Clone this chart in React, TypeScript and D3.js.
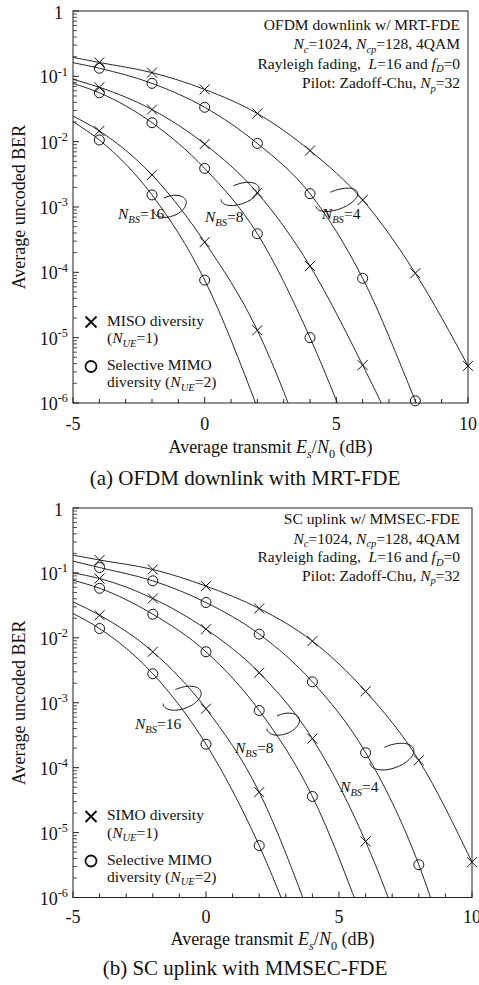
import React from 'react';
import * as d3 from 'd3';

const FONT = '"Liberation Serif", "Times New Roman", serif';

// Es/N0 (dB) of the simulated points; markers sit on the even ones
const SNR_DB = [-5, -4, -2, 0, 2, 4, 6, 8, 10];
const MARKER_DB = [-4, -2, 0, 2, 4, 6, 8, 10];

// (a) OFDM downlink w/ MRT-FDE  (MISO = cross, selective MIMO = circle)
const DL_MISO_4 = [0.195, 0.163, 0.114, 0.063, 0.027, 0.0073, 0.00128, 9.7e-5, 3.7e-6];
const DL_MIMO_4 = [0.162, 0.133, 0.078, 0.0336, 0.0094, 0.0016, 8.1e-5, 1.08e-6, 1e-8];
const DL_MISO_8 = [0.09, 0.068, 0.031, 0.0092, 0.00165, 1.25e-4, 3.8e-6, 8e-8, null];
const DL_MIMO_8 = [0.078, 0.056, 0.0195, 0.0039, 3.9e-4, 1.0e-5, 1e-7, null, null];
const DL_MISO_16 = [0.0247, 0.0146, 0.0031, 2.9e-4, 1.3e-5, 1.3e-7, null, null, null];
const DL_MIMO_16 = [0.0202, 0.0106, 0.00153, 7.6e-5, 8.5e-7, null, null, null, null];

// (b) SC uplink w/ MMSEC-FDE  (SIMO = cross, selective MIMO = circle)
const UL_SIMO_4 = [0.188, 0.158, 0.113, 0.0626, 0.0283, 0.0089, 0.0015, 1.3e-4, 3.5e-6];
const UL_MIMO_4 = [0.152, 0.121, 0.0756, 0.035, 0.0114, 0.0021, 1.7e-4, 3.2e-6, 8e-9];
const UL_SIMO_8 = [0.1, 0.082, 0.0404, 0.0136, 0.0029, 2.8e-4, 7.3e-6, 5e-8, null];
const UL_MIMO_8 = [0.077, 0.058, 0.0231, 0.0061, 7.6e-4, 3.6e-5, 3.4e-7, null, null];
const UL_SIMO_16 = [0.0358, 0.0223, 0.0061, 8.1e-4, 4.2e-5, 4e-7, null, null, null];
const UL_MIMO_16 = [0.0237, 0.0139, 0.0028, 2.3e-4, 6.3e-6, 5.5e-8, null, null, null];

const X_TICKS = [-5, 0, 5, 10];
const Y_EXP = [0, -1, -2, -3, -4, -5, -6];
const N_BS = [16, 8, 4];

type Seg = [string, string?];

// text with italic / subscript pieces ('i' italic, 'b' subscript, 'p' superscript)
function Rich({ x, y, size, segs, anchor = 'start', transform }: any) {
  let shift = 0;
  return (
    <text x={x} y={y} fontSize={size} textAnchor={anchor} transform={transform}
      style={{ whiteSpace: 'pre' }}>
      {segs.map(([t, f = '']: Seg, k: number) => {
        const small = f.includes('b') || f.includes('p');
        const target = f.includes('b') ? size * 0.25 : f.includes('p') ? -size * 0.42 : 0;
        const dy = target - shift;
        shift = target;
        return (
          <tspan key={k} dy={dy || undefined}
            fontStyle={f.includes('i') ? 'italic' : undefined}
            fontSize={small ? size * 0.68 : undefined}>{t}</tspan>
        );
      })}
    </text>
  );
}

function Cross({ cx, cy, s = 5, w = 1 }: any) {
  return <path d={`M${cx - s},${cy - s}L${cx + s},${cy + s}M${cx - s},${cy + s}L${cx + s},${cy - s}`}
    stroke="#111" strokeWidth={w} fill="none" />;
}

// open, tilted ellipse that wraps a pair of curves
function bracketPath(cx: number, cy: number, rx: number, ry: number, rot: number) {
  const r = (rot * Math.PI) / 180;
  const pts = d3.range(188, -101, -4).map((a) => {
    const t = (a * Math.PI) / 180;
    const ex = rx * Math.cos(t), ey = ry * Math.sin(t);
    return [cx + ex * Math.cos(r) - ey * Math.sin(r), cy + ex * Math.sin(r) + ey * Math.cos(r)] as [number, number];
  });
  return d3.line().curve(d3.curveBasis)(pts);
}

function Panel({ id, box, series, info, infoY, legendName, caption, off, brackets, labels }: any) {
  const x = d3.scaleLinear().domain([-5, 10]).range([box.left, box.right]);
  const y = d3.scaleLog().domain([1e-6, 1]).range([box.bottom, box.top]);
  const line = d3.line<[number, number]>()
    .x((d) => x(d[0]))
    .y((d) => y(d[1]))
    .curve(d3.curveMonotoneX);

  const minorY = d3.range(-6, 0).flatMap((e) => d3.range(2, 10).map((k) => k * 10 ** e));
  const minorX = d3.range(-5, 11);
  const midY = (box.top + box.bottom) / 2;

  return (
    <g>
      <defs>
        <clipPath id={id}>
          <rect x={box.left} y={box.top} width={box.right - box.left} height={box.bottom - box.top} />
        </clipPath>
      </defs>

      <rect x={box.left} y={box.top} width={box.right - box.left} height={box.bottom - box.top}
        fill="none" stroke="#222" strokeWidth={1} />

      {/* ticks */}
      {minorX.map((v) => (
        <line key={'mx' + v} x1={x(v)} x2={x(v)} y1={box.bottom} y2={box.bottom - (v % 5 === 0 ? 6 : 4)}
          stroke="#222" strokeWidth={1} />
      ))}
      {minorY.map((v, i) => (
        <line key={'my' + i} x1={box.left} x2={box.left + 4} y1={y(v)} y2={y(v)} stroke="#222" strokeWidth={0.8} />
      ))}
      {Y_EXP.map((e) => (
        <line key={'My' + e} x1={box.left} x2={box.left + 6} y1={y(10 ** e)} y2={y(10 ** e)} stroke="#222" strokeWidth={1} />
      ))}

      {/* tick labels */}
      {X_TICKS.map((v) => (
        <text key={'xl' + v} x={x(v)} y={box.bottom + off.tick} fontSize={18} textAnchor="middle">{v}</text>
      ))}
      {Y_EXP.map((e) =>
        e === 0 ? (
          <text key={'yl' + e} x={box.left - 10} y={y(1) + 7.5} fontSize={18} textAnchor="end">1</text>
        ) : (
          <Rich key={'yl' + e} x={box.left - 5} y={y(10 ** e) + 7} size={18} anchor="end"
            segs={[['10'], [String(e), 'p']]} />
        )
      )}

      <Rich x={(box.left + box.right) / 2} y={box.bottom + off.title} size={18} anchor="middle"
        segs={[['Average transmit '], ['E', 'i'], ['s', 'ib'], ['/'], ['N', 'i'], ['0', 'b'], [' (dB)']]} />
      <text x={25} y={midY} fontSize={18} textAnchor="middle" transform={`rotate(-90,25,${midY})`}>
        Average uncoded BER
      </text>
      <text x={245} y={box.bottom + off.caption} fontSize={21} textAnchor="middle">{caption}</text>

      {/* curves */}
      <g clipPath={`url(#${id})`}>
        {series.map((s: any, i: number) => {
          const pts = SNR_DB.map((d, k) => [d, s.values[k]]).filter((p) => p[1] != null) as [number, number][];
          return <path key={'c' + i} d={line(pts) || ''} fill="none" stroke="#111" strokeWidth={0.9} />;
        })}
      </g>
      {series.map((s: any, i: number) =>
        MARKER_DB.map((d) => {
          const v = s.values[SNR_DB.indexOf(d)];
          if (v == null || v < 1e-6) return null;
          return s.marker === 'x'
            ? <Cross key={`m${i}_${d}`} cx={x(d)} cy={y(v)} />
            : <circle key={`m${i}_${d}`} cx={x(d)} cy={y(v)} r={5} fill="none" stroke="#111" strokeWidth={1} />;
        })
      )}

      {/* N_BS groups */}
      {brackets.map((b: any, i: number) => (
        <path key={'b' + i} d={bracketPath(x(b[0]), y(10 ** b[1]), b[2], b[3], -20) || ''}
          fill="none" stroke="#111" strokeWidth={1} />
      ))}
      {labels.map((l: any, i: number) => (
        <Rich key={'l' + i} x={x(l[0])} y={y(10 ** l[1])} size={15.5}
          segs={[['N', 'i'], ['BS', 'ib'], ['=' + N_BS[i]]]} />
      ))}

      {/* info block */}
      {info.map((segs: Seg[], i: number) => (
        <Rich key={'i' + i} x={460} y={box.top + infoY[i]} size={15.5} anchor="end" segs={segs} />
      ))}

      {/* legend */}
      <Cross cx={91} cy={box.bottom - 81} s={5.5} w={2} />
      <Rich x={107} y={box.bottom - 77.5} size={15.5} segs={[[legendName + ' diversity']]} />
      <Rich x={107} y={box.bottom - 60} size={15.5} segs={[['('], ['N', 'i'], ['UE', 'ib'], ['=1)']]} />
      <circle cx={91} cy={box.bottom - 36.5} r={5.5} fill="none" stroke="#111" strokeWidth={1.8} />
      <Rich x={107} y={box.bottom - 33} size={15.5} segs={[['Selective MIMO']]} />
      <Rich x={107} y={box.bottom - 16} size={15.5} segs={[['diversity ('], ['N', 'i'], ['UE', 'ib'], ['=2)']]} />
    </g>
  );
}

function infoLines(title: string): Seg[][] {
  return [
    [[title]],
    [['N', 'i'], ['c', 'ib'], ['=1024, '], ['N', 'i'], ['cp', 'ib'], ['=128, 4QAM']],
    [['Rayleigh fading,  '], ['L', 'i'], ['=16 and '], ['f', 'i'], ['D', 'ib'], ['=0']],
    [['Pilot: Zadoff-Chu, '], ['N', 'i'], ['p', 'ib'], ['=32']],
  ];
}

export default function App() {
  return (
    <svg width={479} height={985} style={{ position: 'absolute', left: 0, top: 0, background: '#fff' }}
      fontFamily={FONT} fill="#111">
      <Panel
        id="clip-dl"
        box={{ left: 73, right: 468, top: 11, bottom: 403 }}
        series={[
          { values: DL_MISO_4, marker: 'x' }, { values: DL_MIMO_4, marker: 'o' },
          { values: DL_MISO_8, marker: 'x' }, { values: DL_MIMO_8, marker: 'o' },
          { values: DL_MISO_16, marker: 'x' }, { values: DL_MIMO_16, marker: 'o' },
        ]}
        info={infoLines('OFDM downlink w/ MRT-FDE')}
        infoY={[18.5, 38, 57.5, 77]}
        legendName="MISO"
        caption="(a) OFDM downlink with MRT-FDE"
        off={{ tick: 27, title: 50, caption: 82 }}
        brackets={[[-1.32, -2.99, 17, 10], [1.34, -2.8, 20, 10], [5.02, -2.89, 22, 9.5]]}
        labels={[[-3.29, -3.18], [0.01, -3.23], [4.45, -3.18]]}
      />
      <Panel
        id="clip-ul"
        box={{ left: 73, right: 472, top: 508, bottom: 897.5 }}
        series={[
          { values: UL_SIMO_4, marker: 'x' }, { values: UL_MIMO_4, marker: 'o' },
          { values: UL_SIMO_8, marker: 'x' }, { values: UL_MIMO_8, marker: 'o' },
          { values: UL_SIMO_16, marker: 'x' }, { values: UL_MIMO_16, marker: 'o' },
        ]}
        info={infoLines('SC uplink w/ MMSEC-FDE')}
        infoY={[16, 35.5, 54, 72.5]}
        legendName="SIMO"
        caption="(b) SC uplink with MMSEC-FDE"
        off={{ tick: 25.5, title: 47.5, caption: 77.5 }}
        brackets={[[-0.9, -2.93, 20, 10.5], [2.9, -3.33, 17, 10], [6.99, -3.83, 23, 11.5]]}
        labels={[[-2.67, -3.4], [1.09, -3.78], [5.04, -4.38]]}
      />
    </svg>
  );
}
